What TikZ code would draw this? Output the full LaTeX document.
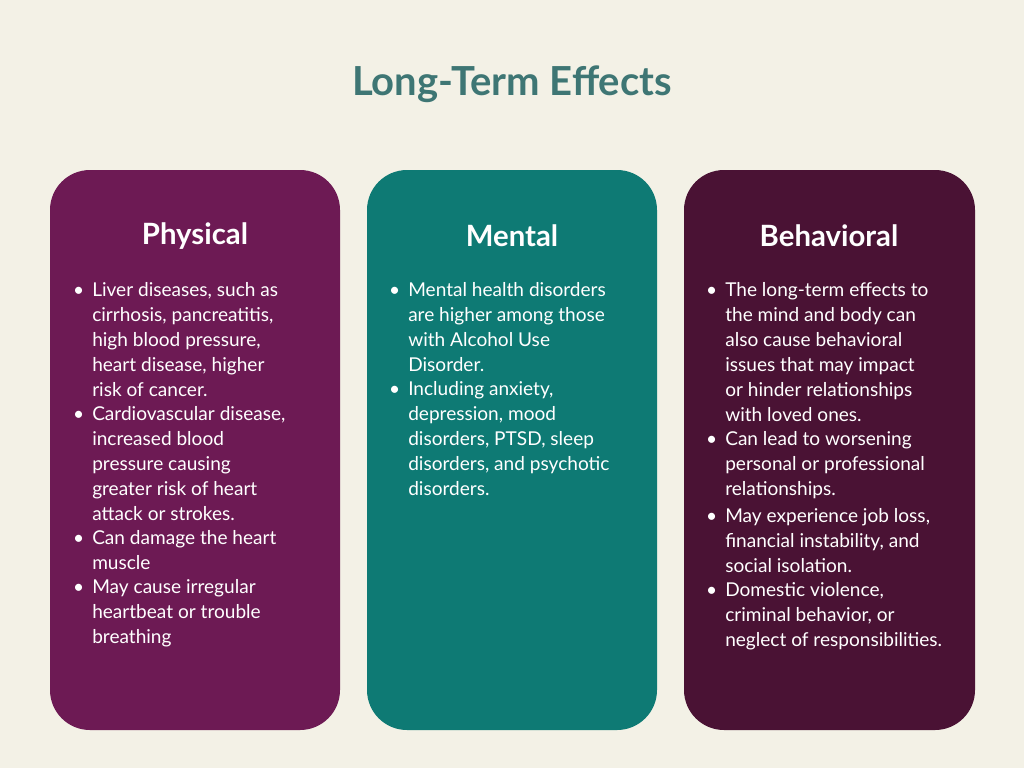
\documentclass[tikz,border=0pt]{standalone}
\usepackage{fontspec}
\setmainfont{Lato}
\definecolor{bgcol}{HTML}{F3F1E6}
\definecolor{physcol}{HTML}{6D1A54}
\definecolor{mentcol}{HTML}{0E7A74}
\definecolor{behacol}{HTML}{4A1234}
\definecolor{titlecol}{HTML}{3E7674}
\tikzset{
  card/.style={rounded corners=40*0.75pt, draw=none},
  head/.style={text=white, font=\fontsize{22}{26}\selectfont\bfseries, inner sep=0pt},
  item/.style={text=white, font=\fontsize{14.3}{18.75}\selectfont, align=left, inner sep=0pt, anchor=north west},
  itemnext/.style={item, yshift=-7pt}
}
\newcommand{\bul}{\llap{\textbullet\hspace{6pt}}}
\begin{document}
\begin{tikzpicture}[x=0.75pt,y=-0.75pt]
  \fill[bgcol] (0,0) rectangle (1024,768);
  \node[text=titlecol, font=\fontsize{30}{36}\selectfont\bfseries] (title) at (512,84) {Long-Term Effects};

  % physical
  \fill[card, physcol] (50,170) rectangle (340,730);
  \node[head] (hphys) at (195,236) {Physical};
  \node[item] (p1) at (92,282) {\bul Liver diseases, such as\\cirrhosis, pancreatitis,\\high blood pressure,\\heart disease, higher\\risk of cancer.};
  \node[itemnext] (p2) at (p1.south west) {\bul Cardiovascular disease,\\increased blood\\pressure causing\\greater risk of heart\\attack or strokes.};
  \node[itemnext] (p3) at (p2.south west) {\bul Can damage the heart\\muscle};
  \node[itemnext] (p4) at (p3.south west) {\bul May cause irregular\\heartbeat or trouble\\breathing};

  % mental
  \fill[card, mentcol] (367,170) rectangle (657,730);
  \node[head] (hment) at (512,236) {Mental};
  \node[item] (m1) at (408,282) {\bul Mental health disorders\\are higher among those\\with Alcohol Use\\Disorder.};
  \node[itemnext] (m2) at (m1.south west) {\bul Including anxiety,\\depression, mood\\disorders, PTSD, sleep\\disorders, and psychotic\\disorders.};

  % behavioral
  \fill[card, behacol] (684,170) rectangle (975,730);
  \node[head] (hbeha) at (829,236) {Behavioral};
  \node[item] (b1) at (725,282) {\bul The long-term effects to\\the mind and body can\\also cause behavioral\\issues that may impact\\or hinder relationships\\with loved ones.};
  \node[itemnext] (b2) at (b1.south west) {\bul Can lead to worsening\\personal or professional\\relationships.};
  \node[itemnext] (b3) at (b2.south west) {\bul May experience job loss,\\financial instability, and\\social isolation.};
  \node[itemnext] (b4) at (b3.south west) {\bul Domestic violence,\\criminal behavior, or\\neglect of responsibilities.};
\end{tikzpicture}
\end{document}
